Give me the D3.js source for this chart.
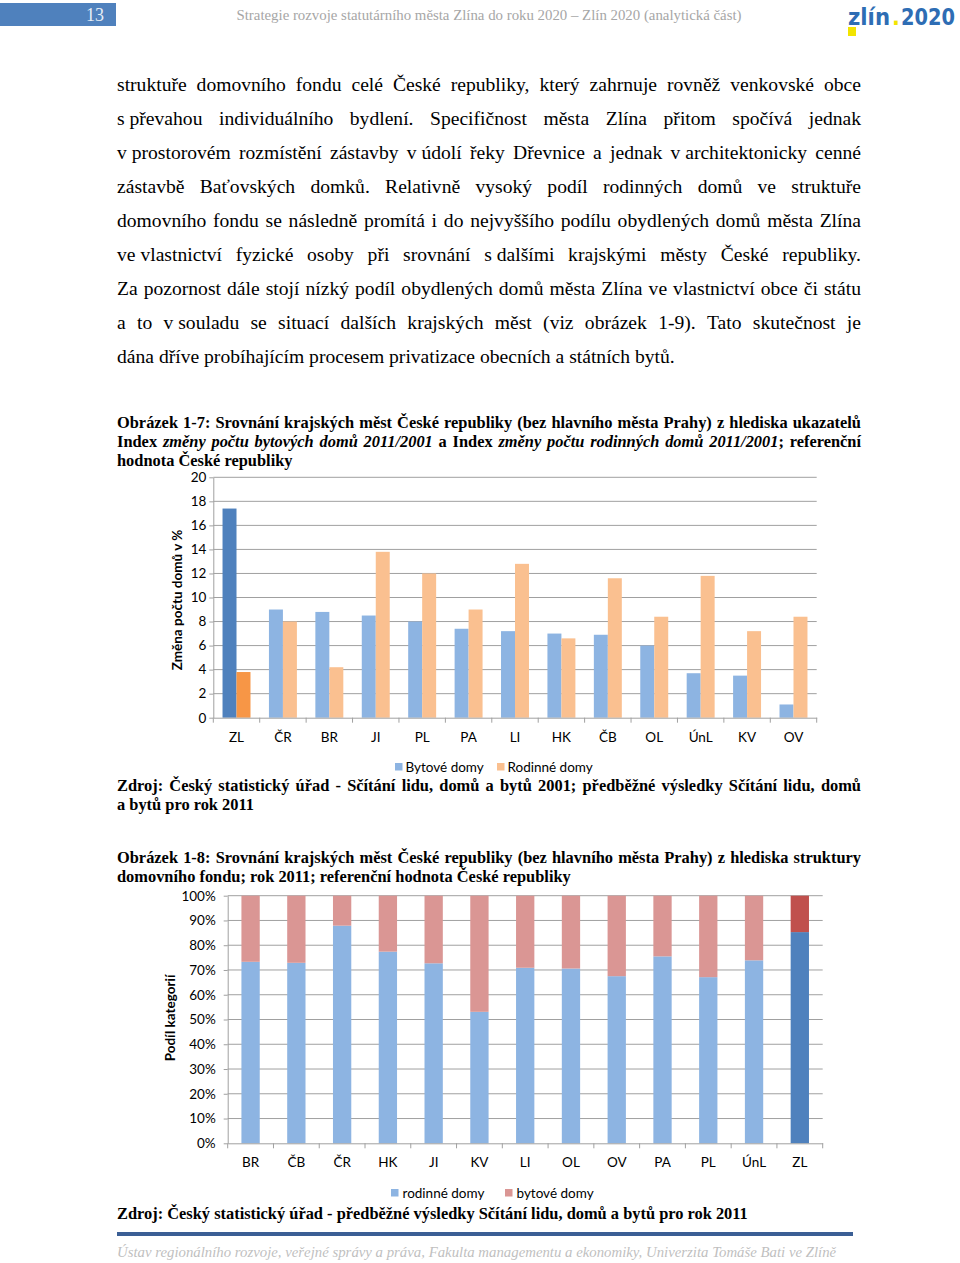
<!DOCTYPE html>
<html><head><meta charset="utf-8">
<script src="https://cdn.jsdelivr.net/npm/d3@7"></script>
<style>body{margin:0;background:#fff} svg{display:block}</style>
</head><body>
<svg id="page" width="960" height="1263"></svg>
<script>
// ---------- DATA ----------
const cats1 = ["ZL","ČR","BR","JI","PL","PA","LI","HK","ČB","OL","ÚnL","KV","OV"];
const bytove1 = [17.4,9.0,8.8,8.5,8.0,7.4,7.2,7.0,6.9,6.0,3.7,3.5,1.1];
const rodinne1 = [3.8,8.0,4.2,13.8,12.0,9.0,12.8,6.6,11.6,8.4,11.8,7.2,8.4];
const ticks1 = [0,2,4,6,8,10,12,14,16,18,20];
const legend1 = ["Bytové domy","Rodinné domy"];

const cats2 = ["BR","ČB","ČR","HK","JI","KV","LI","OL","OV","PA","PL","ÚnL","ZL"];
const rodinne2 = [73.3,72.9,87.9,77.4,72.7,53.1,70.9,70.6,67.5,75.5,67.1,73.9,85.3];
const bytove2  = [26.7,27.1,12.1,22.6,27.3,46.9,29.1,29.4,32.5,24.5,32.9,26.1,14.7];
const ticks2 = [0,10,20,30,40,50,60,70,80,90,100];
const legend2 = ["rodinné domy","bytové domy"];

const bodyLines = [
 "struktuře domovního fondu celé České republiky, který zahrnuje rovněž venkovské obce",
 "s\u00A0převahou individuálního bydlení. Specifičnost města Zlína přitom spočívá jednak",
 "v\u00A0prostorovém rozmístění zástavby v\u00A0údolí řeky Dřevnice a jednak v\u00A0architektonicky cenné",
 "zástavbě Baťovských domků. Relativně vysoký podíl rodinných domů ve struktuře",
 "domovního fondu se následně promítá i do nejvyššího podílu obydlených domů města Zlína",
 "ve\u00A0vlastnictví fyzické osoby při srovnání s\u00A0dalšími krajskými městy České republiky.",
 "Za pozornost dále stojí nízký podíl obydlených domů města Zlína ve vlastnictví obce či státu",
 "a to v\u00A0souladu se situací dalších krajských měst (viz obrázek 1-9). Tato skutečnost je",
 "dána dříve probíhajícím procesem privatizace obecních a státních bytů."
];
const caption1 = [
 "Obrázek 1-7: Srovnání krajských měst České republiky (bez hlavního města Prahy) z hlediska ukazatelů",
 "Index *změny počtu bytových domů 2011/2001* a Index *změny počtu rodinných domů 2011/2001*; referenční",
 "hodnota České republiky"
];
const source1 = [
 "Zdroj: Český statistický úřad - Sčítání lidu, domů a bytů 2001; předběžné výsledky Sčítání lidu, domů",
 "a bytů pro rok 2011"
];
const caption2 = [
 "Obrázek 1-8: Srovnání krajských měst České republiky (bez hlavního města Prahy) z hlediska struktury",
 "domovního fondu; rok 2011; referenční hodnota České republiky"
];
const source2 = ["Zdroj: Český statistický úřad - předběžné výsledky Sčítání lidu, domů a bytů pro rok 2011"];
const headerText = "Strategie rozvoje statutárního města Zlína do roku 2020 – Zlín 2020 (analytická část)";
const footerText = "Ústav regionálního rozvoje, veřejné správy a práva, Fakulta managementu a ekonomiky, Univerzita Tomáše Bati ve Zlíně";

// ---------- HELPERS ----------
const svg = d3.select("#page");
const SERIF = "'Liberation Serif','Times New Roman',serif";
const SANS = "Lato,'Open Sans',sans-serif";

function parseWords(str){
  const words=[]; let word=[]; let piece={t:"",i:false}; let italic=false;
  const flushPiece=()=>{ if(piece.t.length) word.push(piece); piece={t:"",i:italic}; };
  for(const ch of str){
    if(ch==="*"){ flushPiece(); italic=!italic; piece={t:"",i:italic}; }
    else if(ch===" "){ flushPiece(); if(word.length) words.push(word); word=[]; }
    else piece.t+=ch;
  }
  flushPiece(); if(word.length) words.push(word);
  return words;
}
function drawLine(parent, str, x0, y, width, justify, opts){
  const t = parent.append("text").attr("y",y)
    .attr("font-family",opts.family).attr("font-size",opts.size)
    .attr("font-weight",opts.weight||"normal").attr("fill",opts.fill||"#000")
    .attr("font-style",opts.italic?"italic":"normal");
  const words = parseWords(str);
  const wspans = words.map(w => w.map(p => t.append("tspan").attr("font-style", p.i?"italic":null).text(p.t)));
  const widths = wspans.map(ws => d3.sum(ws, s=>s.node().getComputedTextLength()));
  const total = d3.sum(widths);
  let gap = (justify && words.length>1) ? (width-total)/(words.length-1) : opts.size*0.25;
  let sx = 1;
  if (gap < opts.size*0.15) {
    gap = opts.size*0.15;
    sx = (width - gap*(words.length-1))/total;
  }
  let x=x0;
  wspans.forEach((ws,i)=>{
    let px=x;
    ws.forEach(s=>{ const w=s.node().getComputedTextLength()*sx; s.attr("x",px); if(sx!==1) s.attr("textLength",w).attr("lengthAdjust","spacingAndGlyphs"); px+=w; });
    x+=widths[i]*sx+gap;
  });
  return t;
}

// ---------- HEADER ----------
svg.append("rect").attr("x",0).attr("y",3).attr("width",116).attr("height",23).attr("fill","#4F81BD");
svg.append("text").attr("x",95).attr("y",21).attr("text-anchor","middle")
  .attr("font-family",SERIF).attr("font-size",18).attr("fill","#E6EDF6").text("13");
svg.append("text").attr("x",489).attr("y",20).attr("text-anchor","middle")
  .attr("font-family",SERIF).attr("font-size",14).attr("fill","#A6A6A6")
  .attr("textLength",505).attr("lengthAdjust","spacingAndGlyphs").text(headerText);
const LOGOF = "'DejaVu Sans Condensed','DejaVu Sans',sans-serif";
svg.append("text").attr("x",848).attr("y",25).attr("font-family",LOGOF).attr("font-weight","bold")
  .attr("font-size",23).attr("fill","#2E6DB4").attr("textLength",42).attr("lengthAdjust","spacingAndGlyphs").text("zlín");
svg.append("text").attr("x",892).attr("y",25).attr("font-family",LOGOF).attr("font-weight","bold")
  .attr("font-size",23).attr("fill","#F2E400").text(".");
svg.append("text").attr("x",901).attr("y",25).attr("font-family",LOGOF).attr("font-weight","bold")
  .attr("font-size",23).attr("fill","#2E6DB4").attr("textLength",54).attr("lengthAdjust","spacingAndGlyphs").text("2020");
svg.append("rect").attr("x",848).attr("y",27).attr("width",8).attr("height",9).attr("fill","#F2E400");

// ---------- BODY TEXT ----------
const LX=117, LW=744;
bodyLines.forEach((l,i)=>drawLine(svg,l,LX,91+34*i,LW,i<bodyLines.length-1,{family:SERIF,size:19.6}));
const capOpts={family:SERIF,size:16.4,weight:"bold"};
caption1.forEach((l,i)=>drawLine(svg,l,LX,428+19*i,LW,i<2,capOpts));
source1.forEach((l,i)=>drawLine(svg,l,LX,791+19*i,LW,i<1,capOpts));
caption2.forEach((l,i)=>drawLine(svg,l,LX,863+19*i,LW,i<1,capOpts));
source2.forEach((l,i)=>drawLine(svg,l,LX,1219,LW,false,capOpts));

svg.append("rect").attr("x",117).attr("y",1232).attr("width",736).attr("height",4).attr("fill","#3B5F95");
svg.append("text").attr("x",117).attr("y",1257).attr("font-family",SERIF).attr("font-style","italic")
  .attr("font-size",14.8).attr("fill","#BFBFBF").text(footerText);

// ---------- CHART 1 ----------
const GRID="#A0A0A0";
{
  const g = svg.append("g");
  const y = d3.scaleLinear().domain([0,20]).range([717.7,477.3]);
  const x0 = d3.scaleBand().domain(cats1).range([213.3,816.7]).padding(0);
  const x1 = d3.scaleBand().domain(["b","r"]).range([0,x0.bandwidth()]).paddingInner(0).paddingOuter(0.66);
  g.append("g").selectAll("line").data(ticks1.filter(d=>d>0)).join("line")
    .attr("x1",x0.range()[0]).attr("x2",x0.range()[1]).attr("y1",d=>y(d)).attr("y2",d=>y(d))
    .attr("stroke",GRID).attr("stroke-width",1);
  const ya = g.append("g").attr("transform",`translate(${x0.range()[0]},0)`)
    .call(d3.axisLeft(y).tickValues(ticks1).tickSize(4).tickSizeOuter(0).tickPadding(3));
  ya.selectAll("path,line").attr("stroke",GRID);
  ya.selectAll("text").attr("font-family",SANS).attr("font-size",13.5).attr("fill","#000");
  const rows = cats1.map((c,i)=>({c, b:bytove1[i], r:rodinne1[i], zl:c==="ZL"}));
  g.append("g").selectAll("rect").data(rows).join("rect")
    .attr("x",d=>x0(d.c)+x1("b")).attr("width",x1.bandwidth())
    .attr("y",d=>y(d.b)).attr("height",d=>y(0)-y(d.b))
    .attr("fill",d=>d.zl?"#4F81BD":"#8DB4E2");
  g.append("g").selectAll("rect").data(rows).join("rect")
    .attr("x",d=>x0(d.c)+x1("r")).attr("width",x1.bandwidth())
    .attr("y",d=>y(d.r)).attr("height",d=>y(0)-y(d.r))
    .attr("fill",d=>d.zl?"#F79646":"#FAC090");
  const xa = g.append("g").attr("transform",`translate(0,${y(0)})`)
    .call(d3.axisBottom(x0).tickSize(0).tickPadding(15));
  xa.select(".domain").attr("stroke",GRID);
  xa.selectAll("text").attr("font-family",SANS).attr("font-size",13.5).attr("fill","#000");
  g.append("g").selectAll("line").data(d3.range(cats1.length+1)).join("line")
    .attr("x1",i=>x0.range()[0]+i*x0.step()).attr("x2",i=>x0.range()[0]+i*x0.step())
    .attr("y1",y(0)).attr("y2",y(0)+5).attr("stroke",GRID);
  g.append("text").attr("transform","translate(177,600) rotate(-90)").attr("text-anchor","middle")
    .attr("dy","0.35em").attr("font-family",SANS).attr("font-weight","bold").attr("font-size",13.5)
    .text("Změna počtu domů v %");
  const lg = g.append("g").attr("font-family",SANS).attr("font-size",13.5);
  const lx=[395,497], lc=["#8DB4E2","#FAC090"];
  legend1.forEach((name,i)=>{
    lg.append("rect").attr("x",lx[i]).attr("y",763).attr("width",7.5).attr("height",7.5).attr("fill",lc[i]);
    lg.append("text").attr("x",lx[i]+10.5).attr("y",771.5).text(name);
  });
}

// ---------- CHART 2 ----------
{
  const g = svg.append("g");
  const y = d3.scaleLinear().domain([0,100]).range([1143.3,895.7]);
  const x = d3.scaleBand().domain(cats2).range([227.7,822.7]).paddingInner(0.6).paddingOuter(0.3);
  g.append("g").selectAll("line").data(ticks2.filter(d=>d>0)).join("line")
    .attr("x1",x.range()[0]).attr("x2",x.range()[1]).attr("y1",d=>y(d)).attr("y2",d=>y(d))
    .attr("stroke",GRID);
  const ya = g.append("g").attr("transform",`translate(${x.range()[0]},0)`)
    .call(d3.axisLeft(y).tickValues(ticks2).tickFormat(d=>d+"%").tickSize(4).tickSizeOuter(0).tickPadding(8));
  ya.selectAll("path,line").attr("stroke",GRID);
  ya.selectAll("text").attr("font-family",SANS).attr("font-size",13.5).attr("fill","#000");
  const rows = cats2.map((c,i)=>({c, rod:rodinne2[i], byt:bytove2[i]}));
  const stacked = d3.stack().keys(["rod","byt"])(rows);
  const col = {rod:["#8DB4E2","#4F81BD"], byt:["#DA9694","#C0504D"]};
  g.append("g").selectAll("g").data(stacked).join("g")
    .selectAll("rect").data(s=>s.map(d=>({d,key:s.key}))).join("rect")
    .attr("x",o=>x(o.d.data.c)).attr("width",x.bandwidth())
    .attr("y",o=>y(o.d[1])).attr("height",o=>y(o.d[0])-y(o.d[1]))
    .attr("fill",o=>col[o.key][o.d.data.c==="ZL"?1:0]);
  const xa = g.append("g").attr("transform",`translate(0,${y(0)})`)
    .call(d3.axisBottom(x).tickSize(0).tickPadding(14));
  xa.select(".domain").attr("stroke",GRID);
  xa.selectAll("text").attr("font-family",SANS).attr("font-size",13.5).attr("fill","#000");
  g.append("g").selectAll("line").data(d3.range(cats2.length+1)).join("line")
    .attr("x1",i=>x.range()[0]+i*x.step()).attr("x2",i=>x.range()[0]+i*x.step())
    .attr("y1",y(0)).attr("y2",y(0)+5).attr("stroke",GRID);
  g.append("text").attr("transform","translate(170,1018) rotate(-90)").attr("text-anchor","middle")
    .attr("dy","0.35em").attr("font-family",SANS).attr("font-weight","bold").attr("font-size",13.5)
    .text("Podíl kategorií");
  const lg = g.append("g").attr("font-family",SANS).attr("font-size",13.5);
  const lx=[391,505], lc=["#8DB4E2","#DA9694"];
  legend2.forEach((name,i)=>{
    lg.append("rect").attr("x",lx[i]).attr("y",1189).attr("width",7.5).attr("height",7.5).attr("fill",lc[i]);
    lg.append("text").attr("x",lx[i]+11.5).attr("y",1197.5).text(name);
  });
}
</script>
</body></html>
